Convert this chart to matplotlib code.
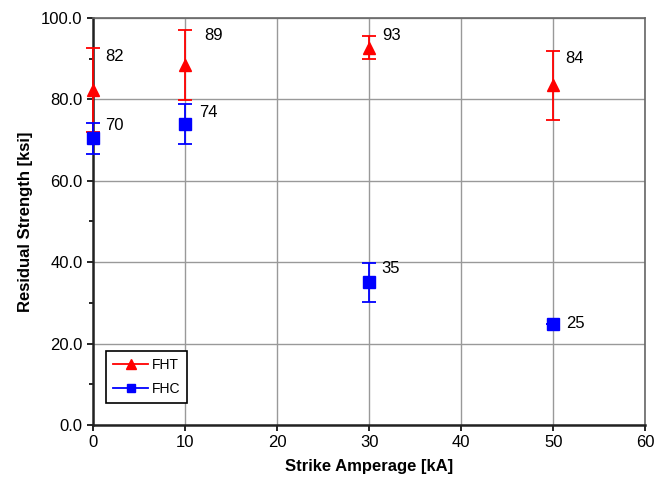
import matplotlib
matplotlib.use("Agg")
import matplotlib.pyplot as plt
from matplotlib.ticker import MultipleLocator, FormatStrFormatter
from matplotlib.lines import Line2D

plt.rcParams['font.family'] = ['Liberation Sans', 'DejaVu Sans']

amperage = [0, 10, 30, 50]
fht_values = [82.3, 88.5, 92.7, 83.4]
fht_err = [10.3, 8.6, 2.9, 8.5]
fht_labels = ['82', '89', '93', '84']
fhc_values = [70.4, 74.0, 35.0, 24.7]
fhc_err = [3.9, 4.9, 4.7, 0.0]
fhc_labels = ['70', '74', '35', '25']

# label offsets in pixels (style, not data)
fht_offsets = [(12, 33), (19, 29), (13, 12), (12, 27)]
fhc_offsets = [(12, 13), (14, 11), (12, 14), (13, 1)]

fig = plt.figure(figsize=(6.55, 4.84), dpi=100)
ax = fig.add_axes([0.142, 0.122, 0.843, 0.841])

red = '#ff0000'
blue = '#0000ff'
e1 = ax.errorbar(amperage, fht_values, yerr=fht_err, color=red, marker='^',
                 markersize=9, linestyle='none', capsize=5, elinewidth=1.3,
                 capthick=1.3, zorder=3)
e2 = ax.errorbar(amperage, fhc_values, yerr=fhc_err, color=blue, marker='s',
                 markersize=8, linestyle='none', capsize=5, elinewidth=1.3,
                 capthick=1.3, zorder=4)
for e in (e1, e2):
    for art in e.get_children():
        art.set_clip_on(False)

for x, y, t, off in zip(amperage, fht_values, fht_labels, fht_offsets):
    ax.annotate(t, (x, y), xytext=off, textcoords='offset pixels',
                fontsize=12, ha='left', va='center')
for x, y, t, off in zip(amperage, fhc_values, fhc_labels, fhc_offsets):
    ax.annotate(t, (x, y), xytext=off, textcoords='offset pixels',
                fontsize=12, ha='left', va='center')

ax.set_xlim(0, 60)
ax.set_ylim(0, 100)
ax.xaxis.set_major_locator(MultipleLocator(10))
ax.yaxis.set_major_locator(MultipleLocator(20))
ax.yaxis.set_minor_locator(MultipleLocator(10))
ax.yaxis.set_major_formatter(FormatStrFormatter('%.1f'))
ax.grid(True, which='major', color='#999999', linewidth=1)
ax.set_axisbelow(True)

for s in ['top', 'right']:
    ax.spines[s].set_color('#666666')
    ax.spines[s].set_linewidth(1.2)
for s in ['left', 'bottom']:
    ax.spines[s].set_color('#222222')
    ax.spines[s].set_linewidth(1.8)

ax.tick_params(axis='both', which='major', direction='out', length=4,
               width=1.2, labelsize=12)
ax.tick_params(axis='y', which='minor', direction='out', length=3, width=1.2)

ax.set_xlabel('Strike Amperage [kA]', fontsize=12, fontweight='bold', labelpad=6)
ax.set_ylabel('Residual Strength [ksi]', fontsize=12, fontweight='bold', labelpad=6)

handles = [Line2D([], [], color=red, marker='^', markersize=7, linewidth=1.3),
           Line2D([], [], color=blue, marker='s', markersize=6, linewidth=1.3)]
leg = ax.legend(handles, ['FHT', 'FHC'], loc='lower left',
                bbox_to_anchor=(0.024, 0.054), fontsize=10,
                frameon=True, fancybox=False, edgecolor='black', framealpha=1,
                handlelength=2.5, handletextpad=0.25, borderpad=0.5,
                labelspacing=0.75, borderaxespad=0)
leg.get_frame().set_linewidth(1.2)

fig.savefig('out.png', dpi=100)
